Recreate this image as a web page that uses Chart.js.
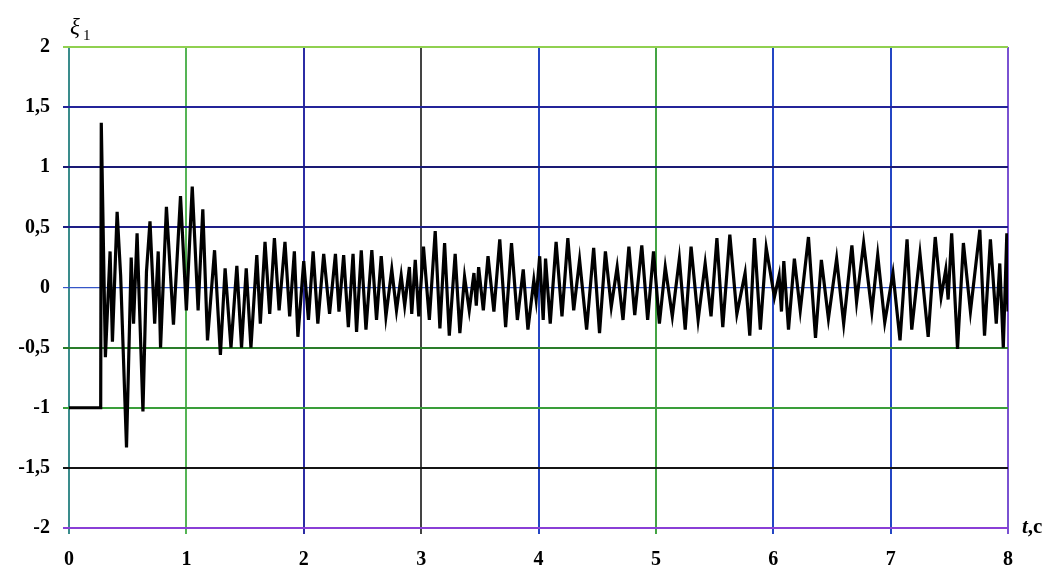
<!DOCTYPE html>
<html>
<head>
<meta charset="utf-8">
<script src="https://cdn.jsdelivr.net/npm/chart.js@4.4.1/dist/chart.umd.min.js"></script>
<style>
html,body{margin:0;padding:0;background:#fff;}
#wrap{position:relative;width:1056px;height:574px;}
canvas{display:block;}
</style>
</head>
<body>
<div id="wrap"><canvas id="c" width="1056" height="574"></canvas></div>
<script>
// time, s
const times = [
0, 0.27, 0.275, 0.31, 0.35, 0.37, 0.41, 0.44, 0.49, 0.53, 0.55, 0.58, 0.63, 0.66, 0.69, 0.73, 0.76, 0.78,
0.83, 0.89, 0.95, 1.00, 1.05, 1.10, 1.14, 1.18, 1.24, 1.29, 1.33, 1.38, 1.43, 1.47, 1.51, 1.55,
1.60, 1.63, 1.67, 1.71, 1.75, 1.79, 1.84, 1.88, 1.92, 1.95, 2.00, 2.04, 2.08, 2.12, 2.17, 2.22,
2.27, 2.30, 2.34, 2.38, 2.42, 2.45, 2.49, 2.53, 2.58, 2.62, 2.66, 2.70, 2.75, 2.79, 2.83, 2.86,
2.90, 2.92, 2.95, 2.98, 3.02, 3.07, 3.12, 3.16, 3.20, 3.24, 3.29, 3.33, 3.37, 3.41, 3.45, 3.47,
3.49, 3.53, 3.57, 3.62, 3.67, 3.72, 3.77, 3.82, 3.87, 3.91, 3.96, 3.98, 4.01, 4.04, 4.06, 4.10,
4.15, 4.20, 4.25, 4.30, 4.35, 4.41, 4.47, 4.52, 4.57, 4.62, 4.67, 4.72, 4.77, 4.82, 4.88, 4.93,
4.98, 5.03, 5.08, 5.14, 5.20, 5.25, 5.30, 5.36, 5.42, 5.47, 5.52, 5.57, 5.63, 5.69, 5.76, 5.80,
5.84, 5.89, 5.94, 6.01, 6.05, 6.07, 6.09, 6.13, 6.18, 6.23, 6.30, 6.36, 6.41, 6.47, 6.54, 6.60,
6.67, 6.71, 6.77, 6.84, 6.89, 6.95, 7.02, 7.08, 7.14, 7.18, 7.25, 7.32, 7.38, 7.43, 7.47, 7.49,
7.52, 7.57, 7.62, 7.68, 7.76, 7.80, 7.85, 7.90, 7.93, 7.96, 7.99, 8.00
];
// xi_1 values
const xi1 = [
-1, -1, 1.37, -0.58, 0.30, -0.45, 0.63, 0.10, -1.33, 0.25, -0.30, 0.45, -1.03, 0.13, 0.55, -0.30, 0.30, -0.50,
0.67, -0.31, 0.76, -0.19, 0.84, -0.19, 0.65, -0.44, 0.31, -0.56, 0.16, -0.50, 0.18, -0.50, 0.16, -0.50,
0.27, -0.30, 0.38, -0.22, 0.41, -0.19, 0.38, -0.24, 0.30, -0.41, 0.22, -0.27, 0.30, -0.30, 0.28, -0.22,
0.28, -0.20, 0.27, -0.33, 0.28, -0.37, 0.31, -0.35, 0.31, -0.27, 0.26, -0.24, 0.15, -0.19, 0.10, -0.15,
0.17, -0.22, 0.23, -0.24, 0.34, -0.27, 0.47, -0.34, 0.37, -0.40, 0.28, -0.38, 0.09, -0.19, 0.12, -0.15,
0.17, -0.19, 0.26, -0.20, 0.40, -0.33, 0.37, -0.27, 0.15, -0.35, 0.06, -0.10, 0.26, -0.27, 0.24, -0.30,
0.38, -0.24, 0.41, -0.19, 0.23, -0.35, 0.33, -0.38, 0.30, -0.16, 0.17, -0.27, 0.34, -0.23, 0.35, -0.27,
0.30, -0.30, 0.17, -0.24, 0.24, -0.35, 0.34, -0.27, 0.20, -0.24, 0.41, -0.33, 0.44, -0.22, 0.12, -0.40,
0.41, -0.35, 0.33, -0.08, 0.10, -0.20, 0.22, -0.35, 0.24, -0.19, 0.42, -0.42, 0.23, -0.26, 0.24, -0.30,
0.35, -0.12, 0.37, -0.20, 0.27, -0.29, 0.12, -0.44, 0.40, -0.35, 0.28, -0.41, 0.42, -0.08, 0.15, -0.10,
0.45, -0.51, 0.37, -0.20, 0.48, -0.40, 0.40, -0.30, 0.20, -0.50, 0.45, -0.20
];
const xTickLabels = ['0','1','2','3','4','5','6','7','8'];
const yTickValues = [-2, -1.5, -1, -0.5, 0, 0.5, 1, 1.5, 2];
const yTickLabels = ['-2','-1,5','-1','-0,5','0','0,5','1','1,5','2'];

const yGridColors = ['#8a3fd6','#141414','#3a9e3a','#2a7d2a','#3556c8','#1e1e86','#1a1a74','#24249a','#90d050'];
const xGridColors = ['#3a8c8c','#55b455','#2c2ca4','#444444','#2446c4','#44a444','#2446c4','#2446c4','#7a52d2'];

const pts = times.map((t, i) => ({x: t, y: xi1[i]}));

const labelsPlugin = {
  id: 'axisTitles',
  afterDraw(chart) {
    const ctx = chart.ctx;
    ctx.save();
    ctx.fillStyle = '#000';
    ctx.textBaseline = 'alphabetic';
    ctx.font = 'italic 23px "Liberation Serif"';
    ctx.textAlign = 'left';
    ctx.fillText('ξ', 70, 34);
    ctx.font = '15px "Liberation Serif"';
    ctx.fillText('1', 83, 40);
    ctx.font = 'italic bold 21px "Liberation Serif"';
    ctx.fillText('t', 1022, 533);
    const w = ctx.measureText('t').width;
    ctx.font = 'bold 21px "Liberation Serif"';
    ctx.fillText(',c', 1022 + w, 533);
    ctx.restore();
  }
};

new Chart(document.getElementById('c'), {
  type: 'line',
  data: {
    datasets: [{
      data: pts,
      borderColor: '#000',
      borderWidth: 3.2,
      pointRadius: 0,
      tension: 0,
      borderJoinStyle: 'miter',
      fill: false
    }]
  },
  options: {
    responsive: false,
    animation: false,
    events: [],
    layout: {padding: {left: 0, right: 48, top: 47, bottom: 0}},
    plugins: {legend: {display: false}, tooltip: {enabled: false}},
    scales: {
      x: {
        type: 'linear', min: 0, max: 8,
        afterFit(s) { s.height = 46; },
        afterBuildTicks(s) { s.ticks = xTickLabels.map((l, i) => ({value: i})); },
        ticks: {
          callback: (v, i) => xTickLabels[i],
          color: '#000', padding: 14, maxRotation: 0, autoSkip: false,
          font: {family: '"Liberation Serif"', size: 20, weight: 'bold'}
        },
        grid: {
          color: (c) => xGridColors[c.index] || '#444',
          lineWidth: (c) => 2,
          tickLength: 6, drawTicks: true
        },
        border: {display: false}
      },
      y: {
        type: 'linear', min: -2, max: 2,
        afterFit(s) { s.width = 69; },
        afterBuildTicks(s) { s.ticks = yTickValues.map(v => ({value: v})); },
        ticks: {
          callback: (v, i) => yTickLabels[i],
          color: '#000', padding: 13, autoSkip: false,
          font: {family: '"Liberation Serif"', size: 20, weight: 'bold'}
        },
        grid: {
          color: (c) => yGridColors[c.index] || '#444',
          lineWidth: (c) => (c.index === 4 ? 1.2 : 2),
          tickLength: 6, drawTicks: true
        },
        border: {display: false}
      }
    }
  },
  plugins: [labelsPlugin]
});
</script>
</body>
</html>
